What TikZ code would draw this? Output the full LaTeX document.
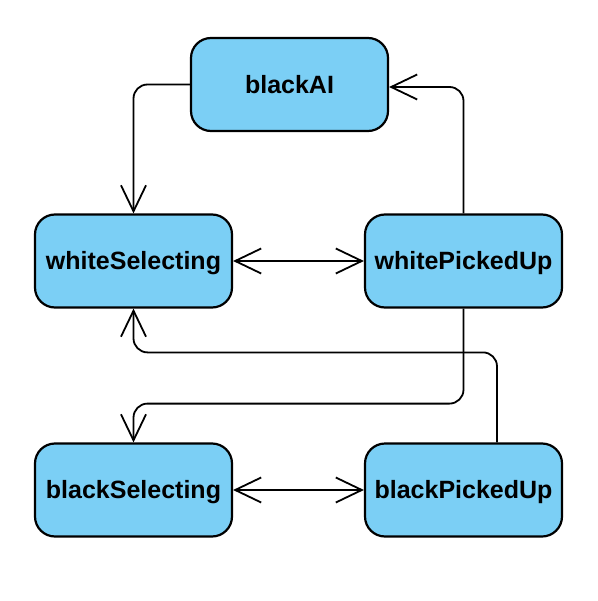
\documentclass[tikz,border=0pt]{standalone}
\usepackage{fontspec}
\setmainfont{Liberation Sans}
\usetikzlibrary{arrows.meta,positioning}
\definecolor{s1}{HTML}{7BCFF5}

\begin{document}
\begin{tikzpicture}[x=1pt,y=-1pt,
	>={Straight Barb[length=26pt,width=25pt]},
	state/.style = {draw, line width=2.2pt, fill=s1, rounded corners=20pt,
		minimum width=197pt, minimum height=93pt, text depth=1pt,
		font=\bfseries\fontsize{25}{30}\selectfont},
	trans/.style = {line width=1.8pt, rounded corners=14pt, ->}]
	\useasboundingbox (0,0) rectangle (597,601);
	% states
	\node [state] (bAI)  at (289.5,84.5) {blackAI};
	\node [state] (wSel) at (133.5,261) {whiteSelecting};
	\node [state] (wPU)  at (463.5,261) {whitePickedUp};
	\node [state] (bSel) at (133.5,490) {blackSelecting};
	\node [state] (bPU)  at (463.5,490) {blackPickedUp};
	% transitions
	\draw [trans] (bAI.west) -| (wSel.north);
	\draw [trans] (wPU.north) |- ([yshift=-2.5pt]bAI.east);
	\draw [trans, <->] (wSel.east) -- (wPU.west);
	\draw [trans] (wPU.south) -- ++(0,95) -| (bSel.north);
	\draw [trans] ([xshift=33.5pt]bPU.north) -- ++(0,-90) -| (wSel.south);
	\draw [trans, <->] (bSel.east) -- (bPU.west);
\end{tikzpicture}
\end{document}
